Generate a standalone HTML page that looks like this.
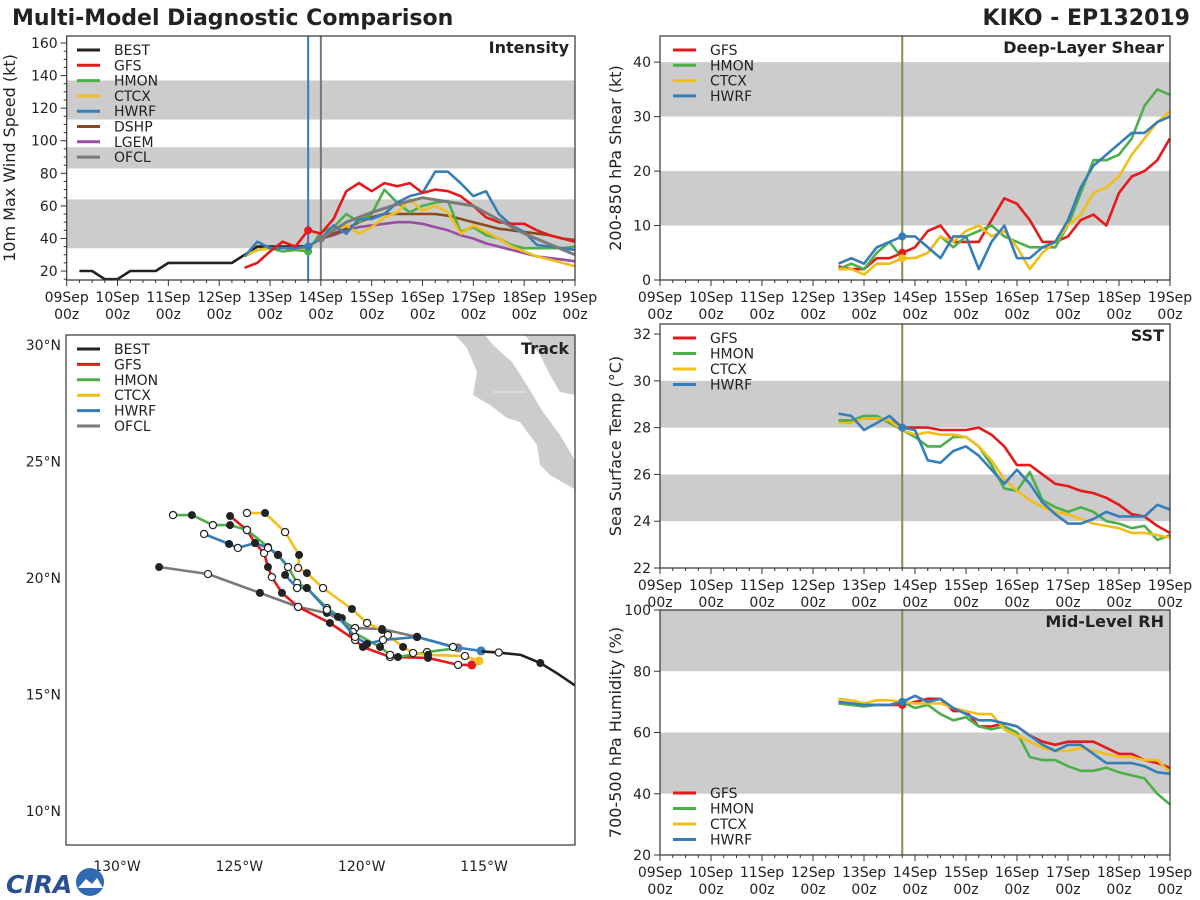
<!DOCTYPE html>
<html><head><meta charset="utf-8">
<style>
html,body{margin:0;padding:0;background:#fff;}
svg{display:block;font-family:"DejaVu Sans","Liberation Sans",sans-serif;}
</style></head>
<body>
<svg id="chart" width="1200" height="900" viewBox="0 0 1200 900" xmlns="http://www.w3.org/2000/svg">
<text x="12" y="25" font-size="22" font-weight="bold" fill="#222">Multi-Model Diagnostic Comparison</text>
<text x="1190" y="25" font-size="22" font-weight="bold" fill="#222" text-anchor="end">KIKO - EP132019</text>
<g id="layer"></g>
<g>
<text x="6" y="893" font-size="25" font-weight="bold" fill="#2a4f93" font-style="italic">CIRA</text>
<circle cx="90" cy="882" r="14" fill="#2f6ab3"/>
<path d="M78 888 L86 879 L92 884 L97 878 L103 888 Z" fill="#fff"/>
</g>
</svg>
<script>
// ===== data =====
const hours = [84,90,96,102,108,114,120,126,132,138,144,150,156,162,168,174,180,186,192,198,204,210,216,222,228,234,240];
const hoursOfcl = [120,132,144,156,168,192,216,240];
const hoursBest = [6,12,18,24,30,36,42,48,54,60,66,72,78,84,90,96,102,108,114];
const dayLabels = ["09Sep","10Sep","11Sep","12Sep","13Sep","14Sep","15Sep","16Sep","17Sep","18Sep","19Sep"];

const intBest = [20,20,15,15,20,20,20,25,25,25,25,25,25,30,35,35,35,35,35];
const intGfs  = [22,25,32,38,35,45,43,52,69,74,69,74,72,74,68,70,69,66,60,53,50,49,49,45,42,40,38];
const intHmon = [29,33,34,32,33,32,44,47,55,50,55,70,62,56,60,62,63,44,47,42,40,36,34,34,34,34,35];
const intCtcx = [29,33,34,34,34,34,40,45,48,43,47,53,56,64,57,60,56,43,48,44,40,35,32,29,27,25,23];
const intHwrf = [29,38,34,34,34,35,40,48,43,52,52,55,62,66,68,81,81,74,66,69,55,48,44,36,35,34,33];
const intDshp = [null,null,null,null,null,null,40,43,46,50,53,55,55,55,55,55,54,52,50,48,46,45,44,43,42,40,39];
const intLgem = [null,null,null,null,null,null,40,42,45,47,48,49,50,50,49,47,45,42,40,37,35,33,31,29,28,27,26];
const intOfcl = [40,50,56,61,65,60,43,30];

const shrGfs  = [2.5,2,2,4,4,5,6,9,10,7,7,7,11,15,14,11,7,7,8,11,12,10,16,19,20,22,26];
const shrHmon = [2,3,2,5,7,4,4,5,8,6,8,9,10,8,7,6,6,6,10,16,22,22,23,26,32,35,34];
const shrCtcx = [2,2,1,3,3,4,4,5,8,7,9,10,8,9,6,2,5,7,10,12,16,17,19,23,26,29,31];
const shrHwrf = [3,4,3,6,7,8,8,6,4,8,8,2,7,10,4,4,6,7,11,17,21,23,25,27,27,29,30];

const sstGfs  = [28.3,28.3,28.4,28.4,28.3,28.0,28.0,28.0,27.9,27.9,27.9,28.0,27.7,27.2,26.4,26.4,26.0,25.6,25.5,25.3,25.2,25.0,24.7,24.3,24.2,23.8,23.5];
const sstHmon = [28.3,28.3,28.5,28.5,28.2,27.9,27.6,27.2,27.2,27.6,27.6,27.2,26.4,25.4,25.3,26.1,24.9,24.6,24.4,24.6,24.4,24.0,23.9,23.7,23.8,23.2,23.4];
const sstCtcx = [28.2,28.2,28.4,28.4,28.3,27.9,27.7,27.8,27.7,27.7,27.6,27.2,26.6,25.8,25.3,24.9,24.6,24.4,24.3,24.1,23.9,23.8,23.7,23.5,23.5,23.4,23.3];
const sstHwrf = [28.6,28.5,27.9,28.2,28.5,28.0,27.9,26.6,26.5,27.0,27.2,26.8,26.2,25.6,26.2,25.6,24.8,24.3,23.9,23.9,24.1,24.4,24.2,24.2,24.2,24.7,24.5];

const rhGfs  = [70,69.5,69,69,69,69,70,71,71,67,67,62,62,63,62,59,57,56,57,57,57,55,53,53,51,50,48.5];
const rhHmon = [69.5,69,68.5,69,69,70,68,69,66,64,65,62,61,62,60,52,51,51,49,47.5,47.5,48.5,47,46,45,40,36.5];
const rhCtcx = [71,70.5,69.5,70.5,70.5,70,69.5,69.5,69.5,68,67,66,66,61,59,57,55,54,54,55,54,53,52,52,51,51,47];
const rhHwrf = [70,69.5,69,69,69,70,72,70,71,68,66,64,64,63,62,59,56,54,56,56,53,50,50,50,49,47,46.5];

// track: longitude (deg W) and latitude (deg N)
const trkBestLon = [110.5,111.3,112,112.7,113.5,114.4,115.1];
const trkBestLat = [15.0,15.4,15.9,16.35,16.7,16.8,16.85];
const trkGfsLon = [115.5,116.06,117.29,118.84,119.95,120.27,121.3,122.6,123.26,123.67,123.83,123.99,124.36,124.69,125.38];
const trkGfsLat = [16.27,16.27,16.57,16.61,17.04,17.34,18.07,18.76,19.36,20.04,20.47,21.07,21.5,22.06,22.66];
const trkHmonLon = [116.06,117.33,118.52,118.84,119.25,120.36,120.81,121.42,122.24,122.64,123.01,123.42,123.83,124.69,125.38,126.08,126.94,127.71];
const trkHmonLat = [17.0,16.82,16.61,16.7,17.04,17.68,18.28,18.71,19.57,19.79,20.47,20.99,21.33,22.06,22.27,22.27,22.7,22.7];
const trkCtcxLon = [115.21,115.78,117.29,117.9,118.31,118.93,119.17,119.78,120.4,121.58,122.24,122.6,122.56,123.13,123.95,124.69];
const trkCtcxLat = [16.44,16.65,16.7,16.78,17.04,17.55,17.77,18.07,18.67,19.57,20.21,20.43,20.99,21.97,22.79,22.79];
const trkHwrfLon = [115.12,116.27,117.74,119.13,119.78,120.27,120.97,121.42,122.24,122.64,123.13,123.01,123.42,123.83,124.36,125.06,125.42,126.44];
const trkHwrfLat = [16.87,17.04,17.47,17.34,17.17,17.47,18.33,18.63,19.57,19.57,20.13,20.47,20.99,21.29,21.5,21.29,21.46,21.89];
const trkOfclLon = [116.06,117.74,119.17,120.27,121.42,122.6,124.16,126.28,128.28];
const trkOfclLat = [17.0,17.47,17.81,17.85,18.5,18.76,19.36,20.17,20.47];

const C = {BEST:"#222222",GFS:"#e41a1c",HMON:"#4daf4a",CTCX:"#f2be1b",HWRF:"#377eb8",DSHP:"#8c4a20",LGEM:"#984ea3",OFCL:"#7a7a7a"};
const NS="http://www.w3.org/2000/svg";
const root=document.getElementById('layer');
function el(tag,attrs,parent){const e=document.createElementNS(NS,tag);for(const k in attrs)e.setAttribute(k,attrs[k]);(parent||root).appendChild(e);return e;}
function txt(s,attrs,parent){const e=el('text',attrs,parent);e.textContent=s;return e;}

function panel(name,x0,x1,y0,y1,ymin,ymax,bands,ticks,ylabel,title,ylx){
  const g=el('g',{});
  
  
  const sx=t=>x0+(t/240)*(x1-x0);
  const sy=v=>y1-(v-ymin)/(ymax-ymin)*(y1-y0);
  bands.forEach(b=>{
    const r=el('rect',{x:x0,y:sy(b[1]),width:x1-x0,height:sy(b[0])-sy(b[1]),fill:'#cccccc'},g);
    
    
  });
  ticks.forEach(v=>{
    el('line',{x1:x0-6,x2:x0,y1:sy(v),y2:sy(v),stroke:'#333','stroke-width':1},g);
    const t=txt(String(v),{x:x0-9,y:sy(v)+5,'font-size':14,'text-anchor':'end',fill:'#222'},g);
    
    
  });
  dayLabels.forEach((d,i)=>{
    const x=sx(i*24);
    el('line',{x1:x,x2:x,y1:y1,y2:y1+6,stroke:'#333','stroke-width':1},g);
    for(let h=6;h<24&&i<10;h+=6){const xm=sx(i*24+h);el('line',{x1:xm,x2:xm,y1:y1,y2:y1+3,stroke:'#333','stroke-width':1},g);}
    const t=txt(d,{x:x,y:y1+22,'font-size':14,'text-anchor':'middle',fill:'#222'},g);
    
    
    txt('00z',{x:x,y:y1+39,'font-size':14,'text-anchor':'middle',fill:'#222'},g);
  });
  const yl=txt(ylabel,{x:0,y:0,'font-size':16,'text-anchor':'middle',fill:'#222',transform:`translate(${ylx},${(y0+y1)/2}) rotate(-90)`},g);
  
  
  const tt=txt(title,{x:x1-6,y:y0+17,'font-size':16,'font-weight':'bold','text-anchor':'end',fill:'#222'},g);
  
  
  return {g,sx,sy,x0,x1,y0,y1};
}
function series(p,name,ts,vals,w){
  let d='';vals.forEach((v,i)=>{if(v==null)return;d+=(d?'L':'M')+p.sx(ts[i]).toFixed(1)+' '+p.sy(v).toFixed(1);});
  const pa=el('path',{d:d,fill:'none',stroke:C[name],'stroke-width':w||2.6,'stroke-linejoin':'round'},p.g);
  
  
}
function dotAt(p,name,t,ts,vals){const i=ts.indexOf(t);if(i<0||vals[i]==null)return;el('circle',{cx:p.sx(t),cy:p.sy(vals[i]),r:4,fill:C[name]},p.g);}
function legend(p,names,x,y,dy){
  names.forEach((n,i)=>{
    const lg=el('g',{},p.g);
    
    
    el('line',{x1:x,x2:x+23,y1:y+i*dy,y2:y+i*dy,stroke:C[n],'stroke-width':3},lg);
    txt(n,{x:x+37,y:y+i*dy+5,'font-size':14,fill:'#222'},lg);
  });
}
function frame(p){
  const r=el('rect',{x:p.x0,y:p.y0,width:p.x1-p.x0,height:p.y1-p.y0,fill:'none',stroke:'#333','stroke-width':1.2},p.g);
  
  
}

// Intensity
const pI=panel('intensity',66.7,575,36,280,14.5,164.3,[[34,64],[83,96],[113,137]],[20,40,60,80,100,120,140,160],'10m Max Wind Speed (kt)','Intensity',15);
for(let v=15;v<=160;v+=5){if(v%20)el('line',{x1:pI.x0-3,x2:pI.x0,y1:pI.sy(v),y2:pI.sy(v),stroke:'#333'},pI.g);}
el('line',{x1:pI.sx(114),x2:pI.sx(114),y1:36,y2:280,stroke:C.HWRF,'stroke-width':2},pI.g);
el('line',{x1:pI.sx(120),x2:pI.sx(120),y1:36,y2:280,stroke:'#807070','stroke-width':2},pI.g);
series(pI,'BEST',hoursBest,intBest);
series(pI,'LGEM',hours,intLgem);
series(pI,'DSHP',hours,intDshp);
series(pI,'HMON',hours,intHmon);
series(pI,'CTCX',hours,intCtcx);
series(pI,'HWRF',hours,intHwrf);
series(pI,'GFS',hours,intGfs);
series(pI,'OFCL',hoursOfcl,intOfcl,3);
dotAt(pI,'GFS',114,hours,intGfs);dotAt(pI,'HMON',114,hours,intHmon);dotAt(pI,'HWRF',114,hours,intHwrf);dotAt(pI,'OFCL',120,hoursOfcl,intOfcl);
legend(pI,['BEST','GFS','HMON','CTCX','HWRF','DSHP','LGEM','OFCL'],77,50,15.3);
frame(pI);

// Shear
const pS=panel('shear',660,1170,36,280,0,44.8,[[10,20],[30,40]],[0,10,20,30,40],'200-850 hPa Shear (kt)','Deep-Layer Shear',621);
el('line',{x1:pS.sx(114),x2:pS.sx(114),y1:36,y2:280,stroke:'#8a8a50','stroke-width':2},pS.g);
series(pS,'GFS',hours,shrGfs);series(pS,'HMON',hours,shrHmon);series(pS,'CTCX',hours,shrCtcx);series(pS,'HWRF',hours,shrHwrf);
dotAt(pS,'HWRF',114,hours,shrHwrf);dotAt(pS,'GFS',114,hours,shrGfs);dotAt(pS,'CTCX',114,hours,shrCtcx);
legend(pS,['GFS','HMON','CTCX','HWRF'],673,50,15.3);
frame(pS);

// SST
const pT=panel('sst',660,1170,324,568,22,32.43,[[24,26],[28,30]],[22,24,26,28,30,32],'Sea Surface Temp (°C)','SST',621);
el('line',{x1:pT.sx(114),x2:pT.sx(114),y1:324,y2:568,stroke:'#8a8a50','stroke-width':2},pT.g);
series(pT,'GFS',hours,sstGfs);series(pT,'HMON',hours,sstHmon);series(pT,'CTCX',hours,sstCtcx);series(pT,'HWRF',hours,sstHwrf);
dotAt(pT,'HWRF',114,hours,sstHwrf);
legend(pT,['GFS','HMON','CTCX','HWRF'],673,338,15.5);
frame(pT);

// RH
const pR=panel('rh',660,1170,610,855,20,100,[[40,60],[80,100]],[20,40,60,80,100],'700-500 hPa Humidity (%)','Mid-Level RH',621);
el('line',{x1:pR.sx(114),x2:pR.sx(114),y1:610,y2:855,stroke:'#8a8a50','stroke-width':2},pR.g);
series(pR,'GFS',hours,rhGfs);series(pR,'HMON',hours,rhHmon);series(pR,'CTCX',hours,rhCtcx);series(pR,'HWRF',hours,rhHwrf);
dotAt(pR,'GFS',114,hours,rhGfs);dotAt(pR,'HWRF',114,hours,rhHwrf);
legend(pR,['GFS','HMON','CTCX','HWRF'],673,793,15.5);
frame(pR);

// Track
(function(){
  const g=el('g',{});
  
  
  const x0=66,x1=575,y0=335,y1=845;
  const lx=L=>117+(130-L)*24.47;
  const ly=a=>578-(a-20)*23.3;
  const defs=el('clipPath',{id:'tc'},g);el('rect',{x:x0,y:y0,width:x1-x0,height:y1-y0},defs);
  const cg=el('g',{'clip-path':'url(#tc)'},g);
  const land1=el('path',{d:'M455 335 L467 348 L477 372 L473 395 L490 405 L507 418 L520 422 L537 445 L540 465 L550 475 L576 490 L576 462 L560 435 L543 412 L525 382 L512 362 L493 345 L485 335 Z',fill:'#cccccc'},cg);
  
  
  const land2=el('path',{d:'M525 335 L540 355 L550 375 L560 392 L576 395 L576 335 Z',fill:'#cccccc'},cg);
  
  
  el('line',{x1:493,x2:526,y1:392,y2:392,stroke:'#eee','stroke-width':1},cg);
  function trk(name,lons,lats,endDot){
    let d='';lons.forEach((L,i)=>{d+=(i?'L':'M')+lx(L).toFixed(1)+' '+ly(lats[i]).toFixed(1);});
    const pa=el('path',{d:d,fill:'none',stroke:C[name],'stroke-width':2.6,'stroke-linejoin':'round'},cg);
    
    
    lons.forEach((L,i)=>{
      if(i===0)return;
      if(i%2===0)el('circle',{cx:lx(L),cy:ly(lats[i]),r:4,fill:'#222'},cg);
      else el('circle',{cx:lx(L),cy:ly(lats[i]),r:3.6,fill:'#fff',stroke:'#222','stroke-width':1.2},cg);
    });
    if(endDot)el('circle',{cx:lx(lons[0]),cy:ly(lats[0]),r:4.5,fill:C[name]},cg);
  }
  trk('OFCL',trkOfclLon,trkOfclLat,true);
  trk('GFS',trkGfsLon,trkGfsLat,true);
  trk('HMON',trkHmonLon,trkHmonLat,false);
  trk('CTCX',trkCtcxLon,trkCtcxLat,true);
  trk('HWRF',trkHwrfLon,trkHwrfLat,true);
  let d='';trkBestLon.forEach((L,i)=>{d+=(i?'L':'M')+lx(L)+' '+ly(trkBestLat[i]);});
  const bp=el('path',{d:d,fill:'none',stroke:C.BEST,'stroke-width':2.6},cg);
  
  
  el('circle',{cx:lx(112.7),cy:ly(16.35),r:4,fill:'#222'},cg);
  el('circle',{cx:lx(114.4),cy:ly(16.8),r:3.6,fill:'#fff',stroke:'#222','stroke-width':1.2},cg);
  el('rect',{x:x0,y:y0,width:x1-x0,height:y1-y0,fill:'none',stroke:'#333','stroke-width':1.2},g);
  [130,125,120,115].forEach(L=>{
    const t=txt(L+'°W',{x:lx(L),y:871,'font-size':14,'text-anchor':'middle',fill:'#222'},g);
    
    
  });
  [30,25,20,15,10].forEach(a=>{
    const t=txt(a+'°N',{x:61,y:ly(a)+5,'font-size':14,'text-anchor':'end',fill:'#222'},g);
    
    
  });
  const tt=txt('Track',{x:x1-6,y:y0+19,'font-size':16,'font-weight':'bold','text-anchor':'end',fill:'#222'},g);
  
  
  ['BEST','GFS','HMON','CTCX','HWRF','OFCL'].forEach((n,i)=>{
    const lg=el('g',{},g);
    
    
    el('line',{x1:77,x2:100,y1:349+i*15.4,y2:349+i*15.4,stroke:C[n],'stroke-width':3},lg);
    txt(n,{x:114,y:354+i*15.4,'font-size':14,fill:'#222'},lg);
  });
})();
</script>
</body></html>
